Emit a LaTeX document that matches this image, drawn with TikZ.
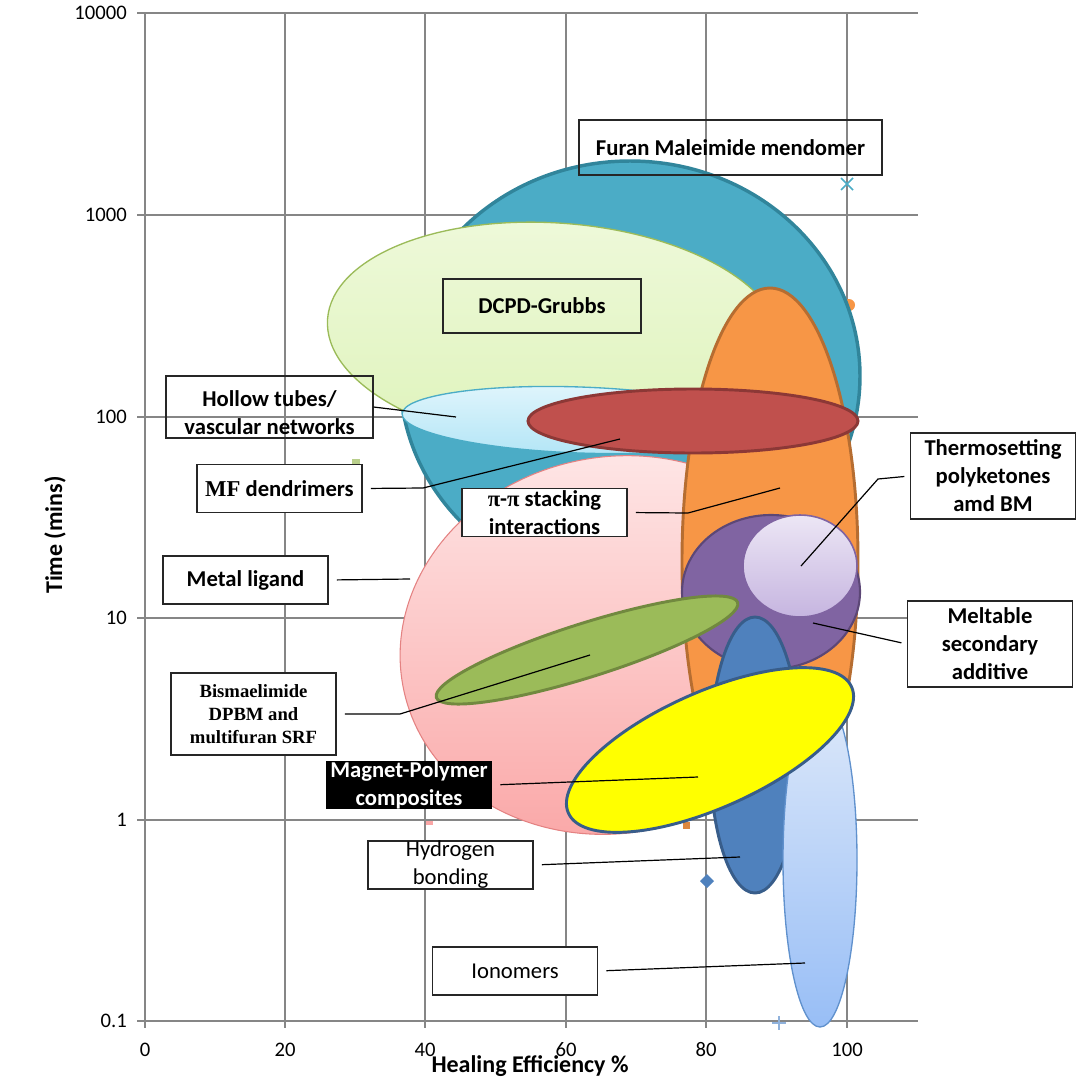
\documentclass[tikz,border=0pt]{standalone}
\usepackage{fontspec}
\setmainfont{Carlito}
\newfontfamily\timesfont{Liberation Serif}
\usepackage{tikz}
\usetikzlibrary{calc}
\definecolor{gridgray}{RGB}{134,134,134}
\definecolor{tealfill}{RGB}{75,172,198}
\definecolor{tealedge}{RGB}{49,133,155}
\definecolor{dcpdtop}{RGB}{238,249,218}
\definecolor{dcpdbottom}{RGB}{222,243,186}
\definecolor{dcpdedge}{RGB}{155,187,89}
\definecolor{orangefill}{RGB}{247,150,70}
\definecolor{orangeedge}{RGB}{182,109,49}
\definecolor{hollowtop}{RGB}{224,245,252}
\definecolor{hollowbottom}{RGB}{178,229,246}
\definecolor{hollowedge}{RGB}{75,172,198}
\definecolor{redfill}{RGB}{192,80,77}
\definecolor{rededge}{RGB}{140,56,54}
\definecolor{pinktop}{RGB}{254,228,228}
\definecolor{pinkbottom}{RGB}{250,166,166}
\definecolor{pinkedge}{RGB}{228,130,130}
\definecolor{olivefill}{RGB}{155,187,89}
\definecolor{oliveedge}{RGB}{113,137,63}
\definecolor{purplefill}{RGB}{128,100,162}
\definecolor{purpleedge}{RGB}{92,71,118}
\definecolor{lavtop}{RGB}{236,230,245}
\definecolor{lavbottom}{RGB}{198,181,224}
\definecolor{bluefill}{RGB}{79,129,189}
\definecolor{blueedge}{RGB}{56,93,138}
\definecolor{iontop}{RGB}{222,233,250}
\definecolor{ionbottom}{RGB}{152,190,246}
\definecolor{ionedge}{RGB}{96,145,205}
\definecolor{magnetyellow}{RGB}{255,255,0}

\begin{document}
\begin{tikzpicture}[x=0.75pt,y=-0.75pt,
  gridline/.style={draw=gridgray, line width=1.1pt},
  ticklabel/.style={font=\fontsize{15.5}{18}\selectfont, inner sep=0pt},
  axistitle/.style={font=\bfseries\fontsize{18}{22}\selectfont, inner sep=0pt},
  tagbox/.style={rectangle, draw=black!85, fill=white, line width=1.1pt,
    align=center, inner sep=0pt, minimum width=124pt, minimum height=36pt,
    font=\bfseries\fontsize{17}{21}\selectfont},
  leader/.style={draw=black, line width=0.9pt, shorten <=6pt},
  bubble/.style={line width=2.2pt}]
\useasboundingbox (0,0) rectangle (1086,1082);

% grid and axes
\foreach \gy in {13,215,417,618,820,1021}
  \draw[gridline] (137,\gy) -- (918,\gy);
\foreach \gx in {145,285,425,566,706,847}
  \draw[gridline] (\gx,13) -- (\gx,1028);
\foreach \gy/\val [count=\i] in {13/10000,215/1000,417/100,618/10,820/1,1021/0.1}
  \node[ticklabel, anchor=east] (ytick\i) at (127,\gy) {\val};
\foreach \gx/\val [count=\i] in {145/0,285/20,425/40,566/60,706/80,847/100}
  \node[ticklabel] (xtick\i) at (\gx,1050) {\val};
\node[axistitle, rotate=90] (ytitle) at (55,535) {Time (mins)};
\node[axistitle] (xtitle) at (530,1066) {Healing Efficiency \%};

% stray markers behind the bubbles
\fill[orangefill] (849,305) circle [radius=6];
\fill[olivefill!70] (352,459) rectangle (360,467);
\fill[orangefill!90!black] (683,822) rectangle (690,829);
\fill[pinkbottom] (426,821) rectangle (433,825);

% bubbles
\draw[fill=tealfill, draw=tealedge, line width=2.6pt] (630,376) ellipse [x radius=230, y radius=215];
\draw[line width=0.8pt, draw=pinkedge, top color=pinktop, bottom color=pinkbottom,
  rotate around={12:(615,645)}] (615,645) ellipse [x radius=216, y radius=188];
\draw[line width=1pt, draw=dcpdedge, top color=dcpdtop, bottom color=dcpdbottom,
  rotate around={-4:(555,335)}] (555,335) ellipse [x radius=228, y radius=112];
\draw[bubble, fill=orangefill, draw=orangeedge] (770,561) ellipse [x radius=88, y radius=273];
\draw[line width=1pt, draw=hollowedge, top color=hollowtop, bottom color=hollowbottom,
  rotate around={-2:(580,420)}] (580,420) ellipse [x radius=178, y radius=33];
\draw[bubble, fill=redfill, draw=rededge] (693,421) ellipse [x radius=165, y radius=32];
\draw[line width=1.6pt, fill=purplefill, draw=purpleedge] (771,592) ellipse [x radius=89, y radius=77];
\draw[line width=1.2pt, draw=purplefill, top color=lavtop, bottom color=lavbottom] (800,566) ellipse [x radius=57, y radius=51];
\draw[bubble, fill=olivefill, draw=oliveedge, rotate around={17.5:(587,650)}] (587,650) ellipse [x radius=158, y radius=27];
\draw[bubble, fill=bluefill, draw=blueedge] (755,755) ellipse [x radius=45, y radius=138];
\draw[line width=1pt, draw=ionedge, top color=iontop, bottom color=ionbottom] (820,860) ellipse [x radius=37, y radius=167];
\draw[bubble, fill=magnetyellow, draw=blueedge, rotate around={24:(710,750)}] (710,750) ellipse [x radius=155, y radius=58];

% foreground markers
\fill[bluefill] (707,874) -- (714,881) -- (707,888) -- (700,881) -- cycle;
\draw[ionedge!70, line width=1.1pt] (772,1023) -- (786,1023) (779,1016) -- (779,1030);
\draw[tealfill, line width=1.1pt] (841,178) -- (853,190) (841,190) -- (853,178);

% label boxes
\node[tagbox, fill=none, minimum width=227pt, minimum height=41pt] (furan) at (730.5,147.5) {Furan Maleimide mendomer};
\node[tagbox, fill=none, minimum width=148.5pt, minimum height=40.5pt] (dcpd) at (542,306) {DCPD-Grubbs};
\node[tagbox, fill=none, minimum width=155pt, minimum height=46.5pt] (hollow) at (269.5,407) {};
\node[font=\bfseries\fontsize{17}{21}\selectfont, align=center, inner sep=0pt] (hollowtext)
  at ([yshift=-4.5pt]hollow.center) {Hollow tubes/\\vascular networks};
\node[tagbox] (mf) at (279.5,488.5) {{\timesfont MF} dendrimers};
\node[tagbox] (metal) at (245.5,580) {Metal ligand};
\node[tagbox] (pipi) at (544.5,512.5) {{\timesfont π}-{\timesfont π} stacking\\interactions};
\node[tagbox, minimum height=64.5pt] (thermo) at (993,476) {Thermosetting\\polyketones\\amd BM};
\node[tagbox, minimum height=64.5pt] (melt) at (990,644) {Meltable\\secondary\\additive};
\node[tagbox, minimum height=61.5pt, font=\timesfont\bfseries\fontsize{14}{17}\selectfont] (bis) at (253.5,714) {Bismaelimide\\DPBM and\\multifuran SRF};
\node[tagbox, draw=none, fill=black, text=white] (magnet) at (409,785) {Magnet-Polymer\\composites};
\node[tagbox, font=\fontsize{17}{21}\selectfont] (hydro) at (450.5,865) {Hydrogen\\bonding};
\node[tagbox, font=\fontsize{17}{21}\selectfont] (ion) at (515,971) {Ionomers};

% leader lines
\coordinate (hollowend) at (456,417);
\coordinate (mfbend) at (423,488);
\coordinate (mfend) at (620,439);
\coordinate (metalend) at (410,579);
\coordinate (pipibend) at (688,513);
\coordinate (pipiend) at (780,488);
\coordinate (thermobend) at (878,479);
\coordinate (thermoend) at (801,566);
\coordinate (meltend) at (813,623);
\coordinate (bisbend) at (400,714);
\coordinate (bisend) at (590,655);
\coordinate (magnetend) at (698,777);
\coordinate (hydroend) at (740,857);
\coordinate (ionend) at (805,963);
\draw[leader, shorten <=0pt] (hollow.east) -- (hollowend);
\draw[leader] (mf.east) -- (mfbend) -- (mfend);
\draw[leader] (metal.east) -- (metalend);
\draw[leader] (pipi.east) -- (pipibend) -- (pipiend);
\draw[leader, shorten <=4pt] (thermo.west) -- (thermobend) -- (thermoend);
\draw[leader, shorten <=4pt] (melt.west) -- (meltend);
\draw[leader] (bis.east) -- (bisbend) -- (bisend);
\draw[leader] (magnet.east) -- (magnetend);
\draw[leader] (hydro.east) -- (hydroend);
\draw[leader] (ion.east) -- (ionend);
\end{tikzpicture}
\end{document}
